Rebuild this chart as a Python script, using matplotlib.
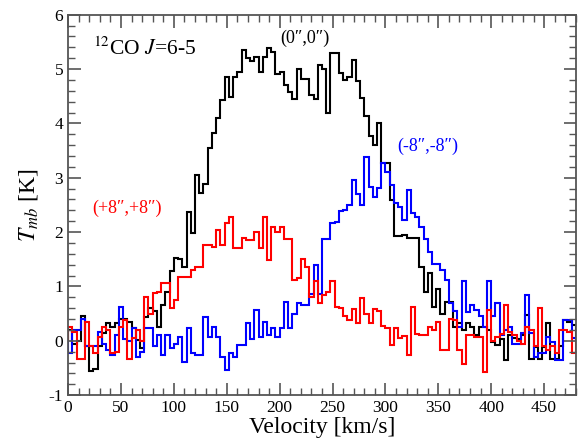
import numpy as np
import matplotlib
matplotlib.use("Agg")
import matplotlib.pyplot as plt
from matplotlib.ticker import MultipleLocator

plt.rcParams['font.family'] = ['Liberation Serif', 'DejaVu Serif']
plt.rcParams['mathtext.fontset'] = 'stix'
plt.rcParams['axes.unicode_minus'] = False

# channel edges (km/s), 4 km/s channels
vel_edges = np.arange(0, 481, 4)

# (0",0") spectrum
t_center = [0.2, -0.05, 0.0, 0.45, -0.1, -0.55, -0.52, -0.1, 0.15, 0.32,
            0.26, 0.32, 0.41, 0.41, 0.35, 0.23, 0.01, -0.14, 0.44, 0.6,
            0.55, 0.26, 0.65, 0.9, 1.28, 1.53, 1.5, 1.35, 2.37, 1.98,
            3.05, 2.72, 2.89, 3.54, 3.82, 4.1, 4.43, 4.86, 4.49, 4.86,
            4.95, 5.35, 5.2, 5.14, 5.23, 4.95, 5.22, 5.38, 5.32, 4.91,
            4.95, 4.7, 4.58, 4.44, 5.0, 4.82, 4.82, 4.52, 4.45, 5.08,
            5.0, 4.2, 5.3, 5.3, 4.93, 4.79, 4.85, 5.17, 4.78, 4.46,
            4.14, 3.76, 3.6, 4.0, 3.27, 3.27, 2.59, 1.92, 1.92, 1.94,
            1.9, 1.9, 1.9, 1.36, 0.9, 1.24, 0.63, 0.96, 0.5, 0.72,
            0.72, 0.26, 0.32, 0.2, 0.32, 0.26, 0.1, 0.26, 0.26, 0.2,
            -0.02, -0.08, 0.04, -0.36, 0.1, 0.05, 0.03, 0.1, 0.48, -0.33,
            -0.12, -0.33, -0.12, 0.32, -0.33, -0.33, -0.1, 0.38, 0.35, 0.3]

# (-8",-8") spectrum
t_minus8 = [-0.23, 0.2, 0.2, 0.41, -0.1, -0.1, -0.1, 0.17, -0.05, -0.17,
            -0.26, 0.1, 0.62, 0.04, 0.0, 0.23, -0.29, -0.2, 0.23, 0.23,
            -0.1, 0.1, -0.26, 0.1, -0.14, -0.05, 0.07, -0.39, 0.23, -0.23,
            -0.26, -0.26, 0.44, 0.07, 0.26, 0.07, -0.29, -0.54, -0.23, -0.29,
            -0.08, -0.08, 0.32, 0.04, 0.57, 0.07, 0.35, 0.1, 0.23, 0.07,
            0.23, 0.72, 0.23, 0.5, 0.69, 0.66, 0.66, 0.87, 1.39, 0.87,
            1.88, 1.88, 2.16, 2.19, 2.38, 2.4, 2.5, 2.95, 2.71, 2.5,
            3.39, 2.83, 2.65, 2.81, 3.27, 3.11, 2.86, 2.53, 2.47, 2.22,
            2.78, 2.35, 2.28, 2.1, 1.88, 1.64, 1.42, 1.42, 1.3, 1.12,
            0.69, 0.55, 0.26, 1.1, 0.53, 0.66, 0.56, 0.45, 0.26, 1.1,
            0.45, 0.69, 0.1, 0.2, 0.26, -0.05, -0.05, 0.15, 0.84, 0.15,
            -0.29, -0.23, -0.23, 0.07, -0.02, -0.36, -0.36, 0.38, 0.38, 0.05]

# (+8",+8") spectrum
t_plus8 = [0.26, 0.17, -0.33, -0.33, 0.35, -0.1, -0.23, 0.07, 0.26, 0.2,
           -0.23, -0.2, 0.26, 0.38, -0.33, 0.05, 0.2, 0.0, 0.81, 0.5,
           0.88, 0.9, 1.06, 1.06, 0.6, 0.75, 1.18, 1.18, 1.18, 1.3,
           1.36, 1.36, 1.76, 1.76, 1.73, 2.04, 1.76, 2.16, 2.28, 1.7,
           1.7, 1.89, 1.85, 1.85, 2.0, 1.7, 2.28, 1.49, 2.1, 2.0,
           2.1, 1.88, 1.88, 1.12, 1.15, 1.5, 1.35, 0.8, 1.1, 0.69,
           0.85, 0.9, 1.1, 0.62, 0.6, 0.45, 0.38, 0.58, 0.32, 0.78,
           0.5, 0.32, 0.58, 0.55, 0.28, 0.23, -0.08, 0.23, 0.05, 0.08,
           -0.26, 0.63, 0.13, 0.1, 0.1, 0.26, 0.2, 0.35, -0.17, -0.17,
           0.41, 0.38, -0.17, -0.42, 0.1, 0.1, 0.07, 0.07, -0.57, 0.57,
           0.0, 0.07, 0.13, 0.66, 0.17, 0.1, 0.0, -0.05, 0.25, 0.2,
           -0.1, 0.6, -0.1, -0.17, -0.1, -0.23, 0.2, 0.2, 0.17, -0.23]

fig = plt.figure(figsize=(5.87, 4.45), dpi=100)
ax = fig.add_axes([0.116, 0.112, 0.865, 0.855])

ax.stairs(t_center, vel_edges, color='black', lw=1.5)
ax.stairs(t_minus8, vel_edges, color='#0000ff', lw=1.5)
ax.stairs(t_plus8, vel_edges, color='#ff0000', lw=1.5)

ax.set_xlim(0, 480)
ax.set_ylim(-1, 6)
ax.xaxis.set_major_locator(MultipleLocator(50))
ax.xaxis.set_minor_locator(MultipleLocator(10))
ax.yaxis.set_major_locator(MultipleLocator(1))
ax.yaxis.set_minor_locator(MultipleLocator(0.2))
ax.tick_params(which='both', direction='in', top=True, right=True,
               color='#555555', labelsize=12.5)
ax.tick_params(which='major', length=9, width=1.2)
ax.tick_params(which='minor', length=5, width=1.0)
for s in ax.spines.values():
    s.set_color('#555555')
    s.set_linewidth(1.3)

ax.set_xlabel('Velocity [km/s]', fontsize=17, labelpad=1)
ax.set_ylabel('$T_{mb}$ [K]', fontsize=17, labelpad=6)

ax.text(24, 5.38, '$^{12}$CO $J$=6-5', fontsize=15.5, ha='left', va='center')
ax.text(224, 5.57, '(0\u2033,0\u2033)', fontsize=13, ha='center', va='center', color='black')
ax.text(340, 3.57, '(-8\u2033,-8\u2033)', fontsize=13, ha='center', va='center', color='#0000ff')
ax.text(56, 2.44, '(+8\u2033,+8\u2033)', fontsize=13, ha='center', va='center', color='#ff0000')

fig.savefig('out.png', dpi=100)
